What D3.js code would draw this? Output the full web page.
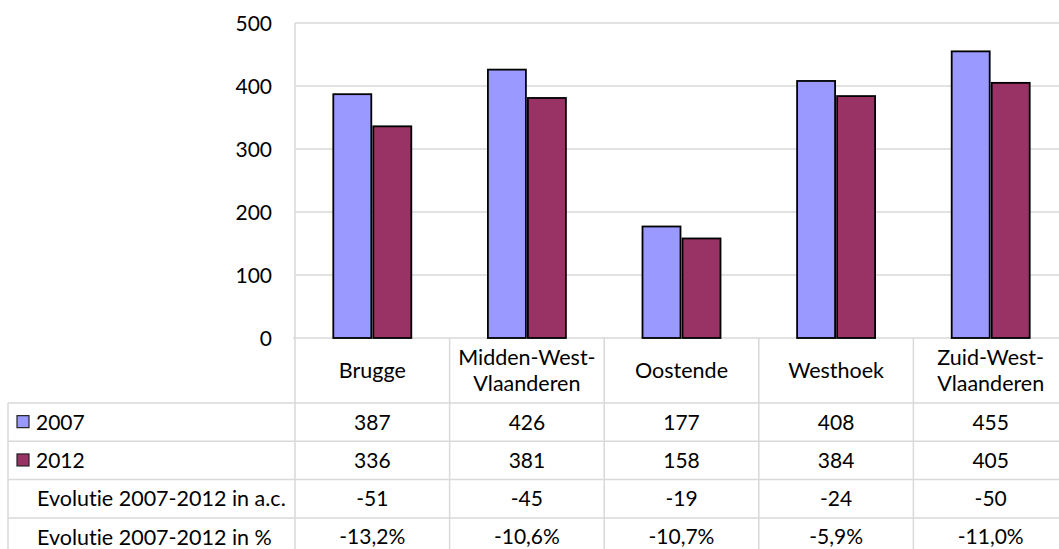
<!DOCTYPE html>
<html>
<head>
<meta charset="utf-8">
<script src="https://cdn.jsdelivr.net/npm/d3@7"></script>
<style>
  html, body { margin: 0; padding: 0; background: #fff; }
  svg { display: block; font-family: Lato, "Open Sans", sans-serif; font-variant-ligatures: none; font-feature-settings: "liga" 0, "clig" 0; }
  text { font-variant-ligatures: none; font-feature-settings: "liga" 0, "clig" 0; }
</style>
</head>
<body>
<svg id="chart" width="1059" height="549"></svg>
<script>
// ---- data ----
const categories = ["Brugge", "Midden-West-Vlaanderen", "Oostende", "Westhoek", "Zuid-West-Vlaanderen"];
const categoryLines = [["Brugge"], ["Midden-West-", "Vlaanderen"], ["Oostende"], ["Westhoek"], ["Zuid-West-", "Vlaanderen"]];
const seriesNames = ["2007", "2012"];
const values2007 = [387, 426, 177, 408, 455];
const values2012 = [336, 381, 158, 384, 405];
const evolutieAbs = ["-51", "-45", "-19", "-24", "-50"];
const evolutiePct = ["-13,2%", "-10,6%", "-10,7%", "-5,9%", "-11,0%"];
const rowLabels = ["2007", "2012", "Evolutie 2007-2012 in a.c.", "Evolutie 2007-2012 in %"];
const yTicks = [0, 100, 200, 300, 400, 500];
const seriesColors = ["#9999ff", "#993366"];

// ---- layout ----
const svg = d3.select("#chart");
const plotLeft = 295, plotRight = 1068, plotTop = 23, plotBottom = 338;
const tableLeft = 8, headerBottom = 403, rowH = 38.3;
const gridColor = "#d9d9d9";
const fontSize = 21.5;
const numSize = 21;

const x0 = d3.scaleBand().domain(categories).range([plotLeft, plotRight]).paddingInner(0).paddingOuter(0);
const bw = x0.bandwidth();
const x1 = d3.scaleBand().domain(seriesNames).range([bw / 2 - 39, bw / 2 + 39]).paddingInner(0.05);
const y = d3.scaleLinear().domain([0, 500]).range([plotBottom, plotTop]);

// gridlines
svg.append("g").selectAll("line").data(yTicks.filter(d => d > 0)).join("line")
  .attr("x1", plotLeft).attr("x2", plotRight)
  .attr("y1", d => y(d)).attr("y2", d => y(d))
  .attr("stroke", gridColor).attr("stroke-width", 1.5);

// y axis
const yAxis = svg.append("g").attr("transform", `translate(${plotLeft},0)`)
  .call(d3.axisLeft(y).tickValues(yTicks).tickSize(0).tickPadding(23));
yAxis.select(".domain").remove();
yAxis.selectAll("text").attr("font-size", numSize).attr("font-family", "Lato, 'Open Sans', sans-serif").attr("fill", "#000").attr("dy", "0.35em");

// table rows
const rowsY = d3.range(rowLabels.length + 1).map(i => headerBottom + i * rowH);
const tableBottom = rowsY[rowsY.length - 1];

// vertical lines of columns (including axis line)
const colEdges = categories.map(c => x0(c)).concat([plotRight]);
svg.append("g").selectAll("line").data(colEdges).join("line")
  .attr("x1", d => d).attr("x2", d => d)
  .attr("y1", (d, i) => i === 0 ? plotTop : plotBottom).attr("y2", tableBottom)
  .attr("stroke", gridColor).attr("stroke-width", 1.5);
// left border of label column
svg.append("line").attr("x1", tableLeft).attr("x2", tableLeft)
  .attr("y1", headerBottom).attr("y2", tableBottom)
  .attr("stroke", gridColor).attr("stroke-width", 1.5);
// horizontal lines
svg.append("line").attr("x1", plotLeft - 2).attr("x2", plotRight)
  .attr("y1", plotBottom).attr("y2", plotBottom)
  .attr("stroke", gridColor).attr("stroke-width", 1.5);
svg.append("g").selectAll("line").data(rowsY).join("line")
  .attr("x1", tableLeft).attr("x2", plotRight)
  .attr("y1", d => d).attr("y2", d => d)
  .attr("stroke", gridColor).attr("stroke-width", 1.5);

// bars
const seriesData = [values2007, values2012];
const groups = svg.append("g").selectAll("g").data(categories).join("g")
  .attr("transform", d => `translate(${x0(d)},0)`);
groups.selectAll("rect").data((c, ci) => seriesNames.map((s, si) => ({ s, si, v: seriesData[si][ci] }))).join("rect")
  .attr("x", d => x1(d.s)).attr("width", x1.bandwidth())
  .attr("y", d => y(d.v)).attr("height", d => y(0) - y(d.v))
  .attr("fill", d => seriesColors[d.si])
  .attr("stroke", "#000").attr("stroke-width", 1.8);

// header labels
const headerMid = (plotBottom + headerBottom) / 2;
const lineH = 26;
svg.append("g").selectAll("text").data(categories).join("text")
  .attr("x", d => x0(d) + bw / 2)
  .attr("text-anchor", "middle").attr("font-size", fontSize).attr("fill", "#000")
  .each(function (d, i) {
    const lines = categoryLines[i];
    const t = d3.select(this);
    lines.forEach((ln, li) => {
      t.append("tspan").attr("x", x0(d) + bw / 2)
        .attr("y", headerMid + (li - (lines.length - 1) / 2) * lineH)
        .attr("dy", "0.35em").text(ln);
    });
  });

// table body
const rowValues = [values2007.map(String), values2012.map(String), evolutieAbs, evolutiePct];
rowValues.forEach((vals, ri) => {
  const cy = rowsY[ri] + rowH / 2;
  svg.append("g").selectAll("text").data(vals).join("text")
    .attr("x", (v, ci) => x0(categories[ci]) + bw / 2)
    .attr("y", cy).attr("dy", "0.35em")
    .attr("text-anchor", "middle").attr("font-size", numSize).attr("fill", "#000")
    .text(v => v);
  const hasKey = ri < 2;
  if (hasKey) {
    svg.append("rect").attr("x", 17).attr("y", cy - 6.5).attr("width", 12).attr("height", 12)
      .attr("fill", seriesColors[ri]).attr("stroke", "#222").attr("stroke-width", 1.2);
  }
  svg.append("text").attr("x", hasKey ? 36 : 37).attr("y", cy).attr("dy", "0.35em")
    .attr("font-size", hasKey ? numSize : fontSize).attr("fill", "#000").text(rowLabels[ri]);
});
</script>
</body>
</html>
